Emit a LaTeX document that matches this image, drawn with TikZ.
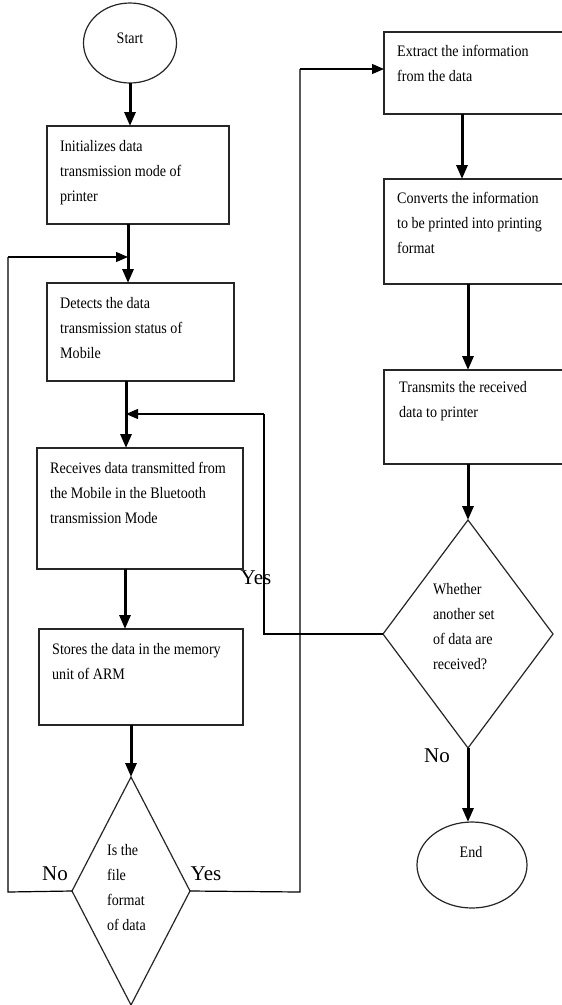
\documentclass[tikz,border=0pt]{standalone}
\usepackage{fontspec}
\setmainfont{Liberation Serif}
\newfontfamily\condfont{Liberation Serif}[FakeStretch=0.88]
\usetikzlibrary{shapes.geometric,arrows.meta}
\newcommand{\bodyfs}{\condfont\fontsize{16}{25}\selectfont}
\newcommand{\labfs}{\fontsize{21}{25}\selectfont}
\tikzset{
  boxshape/.style={draw=black!85, line width=1.3pt, inner sep=0pt, outer sep=0pt, anchor=north west},
  txt/.style={anchor=north west, inner sep=0pt, align=left, font=\bodyfs},
  lab/.style={inner sep=0pt, font=\labfs},
  thick arrow/.style={line width=3pt, -{Triangle[length=14pt,width=11pt]}},
  thin line/.style={line width=1.2pt},
  thin arrow/.style={line width=1.2pt, -{Triangle[length=12pt,width=10pt]}},
  ell/.style={ellipse, draw=black!85, line width=1.2pt, inner sep=0pt, outer sep=0pt},
  dia/.style={diamond, draw=black!85, line width=1.2pt, inner sep=0pt, outer sep=0pt}
}
\begin{document}
\begin{tikzpicture}[x=1pt,y=-1pt]
\useasboundingbox (0,0) rectangle (562,1005);
\clip (0,0) rectangle (562,1005);
\fill[white] (0,0) rectangle (562,1005);

% shapes
\node[ell, minimum width=93pt, minimum height=80pt] (start) at (130,43) {};
\node[txt, anchor=center] (starttxt) at (130,38) {Start};

\node[boxshape, minimum width=182pt, minimum height=98pt] (b1) at (47,126) {};
\node[txt] (t1) at (60,140) {Initializes data\\transmission mode of\\printer};

\node[boxshape, minimum width=187pt, minimum height=98pt] (b2) at (47,283) {};
\node[txt] (t2) at (60,297) {Detects the data\\transmission status of\\Mobile};

\node[boxshape, minimum width=206pt, minimum height=121pt] (b3) at (37,448) {};
\node[txt] (t3) at (50,462) {Receives data transmitted from\\the Mobile in the Bluetooth\\transmission Mode};

\node[boxshape, minimum width=204pt, minimum height=96pt] (b4) at (39,629) {};
\node[txt] (t4) at (52,643) {Stores the data in the memory\\unit of ARM};

\node[dia, minimum width=118pt, minimum height=228pt, aspect=0.5175] (d1) at (131,891) {};
\node[txt] (td1) at (107,844) {Is the\\file\\format\\of data};

\node[boxshape, minimum width=190pt, minimum height=82pt] (b5) at (384,32) {};
\node[txt] (t5) at (397,45) {Extract the information\\from the data};

\node[boxshape, minimum width=190pt, minimum height=105pt] (b6) at (384,179) {};
\node[txt] (t6) at (397,192) {Converts the information\\to be printed into printing\\format};

\node[boxshape, minimum width=190pt, minimum height=94pt] (b7) at (384,370) {};
\node[txt] (t7) at (399,381) {Transmits the received\\data to printer};

\node[dia, minimum width=170pt, minimum height=228pt, aspect=0.7456] (d2) at (468,634) {};
\node[txt] (td2) at (433,583) {Whether\\another set\\of data are\\received?};

\node[ell, minimum width=110pt, minimum height=86pt] (end) at (472,865) {};
\node[txt, anchor=center] (endtxt) at (471,852) {End};

% labels
\node[lab] (yes1) at (256,578) {Yes};
\node[lab] (no1) at (55,874) {No};
\node[lab] (yes2) at (206,874) {Yes};
\node[lab] (no2) at (437,756) {No};

% main flow
\draw[thick arrow] (start.south -| 130,0) -- (b1.north -| 130,0);
\draw[thick arrow] (b1.south -| 128,0) -- (b2.north -| 128,0);
\draw[thick arrow] (b2.south -| 126,0) -- (b3.north -| 126,0);
\draw[thick arrow] (b3.south -| 125,0) -- (b4.north -| 125,0);
\draw[thick arrow] (b4.south -| 131,0) -- (d1.north);
\draw[thick arrow] (b5.south -| 462,0) -- (b6.north -| 462,0);
\draw[thick arrow] (b6.south -| 468,0) -- (b7.north -| 468,0);
\draw[thick arrow] (b7.south -| 468,0) -- (d2.north);
\draw[thick arrow] (d2.south) -- (end.north -| 468,0);

% loops
\coordinate (noJoin) at (128,257);
\coordinate (yesJoin) at (126,414);
\draw[thin line] (d1.west) -- (8,892) -- (8,257);
\draw[thin arrow] (8,257) -- (noJoin);
\draw[thin line] (d1.east) -- (300,892) -- (300,69);
\draw[thin arrow] (300,69) -- (b5.west |- 0,69);
\draw[thin line] (d2.west) -- (264,634) -- (264,414);
\draw[thin arrow] (264,414) -- (yesJoin);
\end{tikzpicture}
\end{document}
